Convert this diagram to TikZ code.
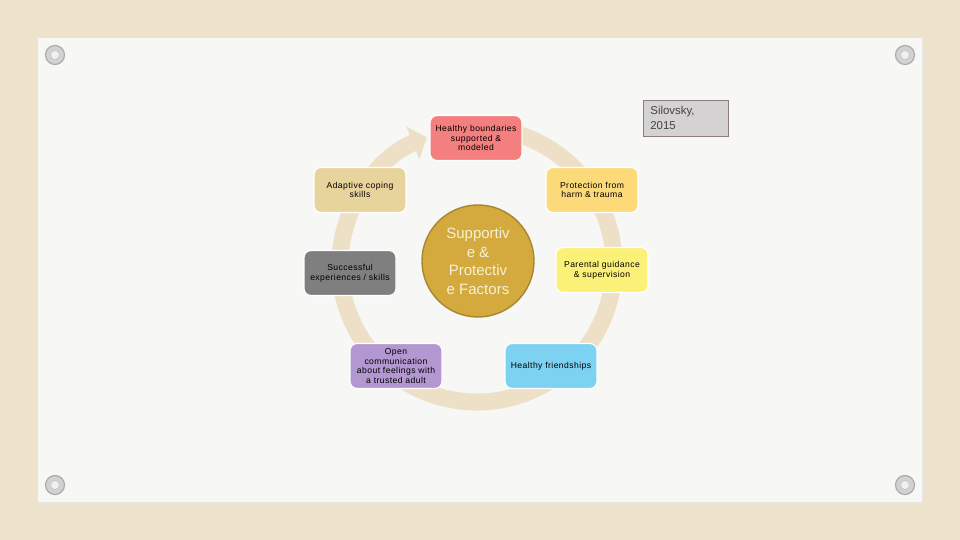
\documentclass[tikz,border=0pt]{standalone}
\usepackage{fontspec}
\setmainfont{Liberation Sans}
\usetikzlibrary{arrows.meta}
\definecolor{outerbg}{HTML}{EDE3CC}
\definecolor{cardbg}{HTML}{F7F7F6}
\definecolor{ringc}{HTML}{EDE0C6}
\definecolor{cRed}{HTML}{F47F7F}
\definecolor{cTan}{HTML}{E7D39C}
\definecolor{cOrange}{HTML}{FCD979}
\definecolor{cGrey}{HTML}{7F7F7F}
\definecolor{cYellow}{HTML}{FBF178}
\definecolor{cPurple}{HTML}{B397D0}
\definecolor{cBlue}{HTML}{7DD1F1}
\definecolor{cGold}{HTML}{D4AA3E}
\definecolor{cGoldDark}{HTML}{A88630}
\definecolor{cGoldText}{HTML}{F8F0D5}
\definecolor{noteFill}{HTML}{D4D2D2}
\definecolor{noteDraw}{HTML}{8C7D7D}
\definecolor{noteText}{HTML}{444444}
\begin{document}
\begin{tikzpicture}[x=1pt,y=1pt,
  factor/.style={draw=white, line width=1.2pt, rounded corners=7pt,
    minimum width=92pt, minimum height=45pt, inner sep=1pt, align=center,
    font=\fontsize{8.6}{9.8}\selectfont\addfontfeature{LetterSpace=5}, text=black},
  pin/.style={circle, draw=gray!65, fill=gray!35, line width=1.2pt, minimum size=19pt, inner sep=0pt},
  pinhole/.style={circle, fill=gray!12, draw=gray!55, minimum size=9pt, inner sep=0pt}]
\useasboundingbox (0,0) rectangle (960,540);
% backgrounds
\fill[outerbg] (0,0) rectangle (960,540);
\fill[black!10] (40,36) rectangle (924,500);
\fill[cardbg] (38,38) rectangle (922,502);
% pins
\foreach \p/\q in {55/485, 905/485, 55/55, 905/55}{
  \node[pin] at (\p,\q) {};
  \node[pinhole] at (\p,\q) {};
}
% circular arrow
\coordinate (rc) at (477,275);
\draw[ringc, line width=17pt, -{Triangle[width=35pt,length=15pt]}]
  ([shift={(rc)}]78:137) arc[start angle=78, end angle=-248.5, radius=137];
% centre circle
\node[circle, fill=cGold, draw=cGoldDark, line width=1.4pt, minimum size=112pt,
  inner sep=0pt, align=center, text=cGoldText,
  font=\fontsize{15}{18.5}\selectfont] (centre) at (478,279)
  {Supportiv\\e \&\\Protectiv\\e Factors};
% factor boxes
\node[factor, fill=cRed] (hb) at (476,402) {Healthy boundaries\\supported \&\\modeled};
\node[factor, fill=cTan] (ac) at (360,350) {Adaptive coping\\skills};
\node[factor, fill=cOrange] (ph) at (592,350) {Protection from\\harm \& trauma};
\node[factor, fill=cGrey] (se) at (350,267) {Successful\\experiences / skills};
\node[factor, fill=cYellow] (pg) at (602,270) {Parental guidance\\\& supervision};
\node[factor, fill=cPurple] (oc) at (396,174) {Open\\communication\\about feelings with\\a trusted adult};
\node[factor, fill=cBlue] (hf) at (551,174) {Healthy friendships};
% citation note
\node[draw=noteDraw, fill=noteFill, line width=0.8pt, text width=71pt,
  minimum height=36pt, inner xsep=7pt, inner ysep=0pt, align=left, text=noteText,
  anchor=north west, font=\fontsize{11.4}{15}\selectfont] (note) at (643,440)
  {Silovsky,\\2015};
\end{tikzpicture}
\end{document}
